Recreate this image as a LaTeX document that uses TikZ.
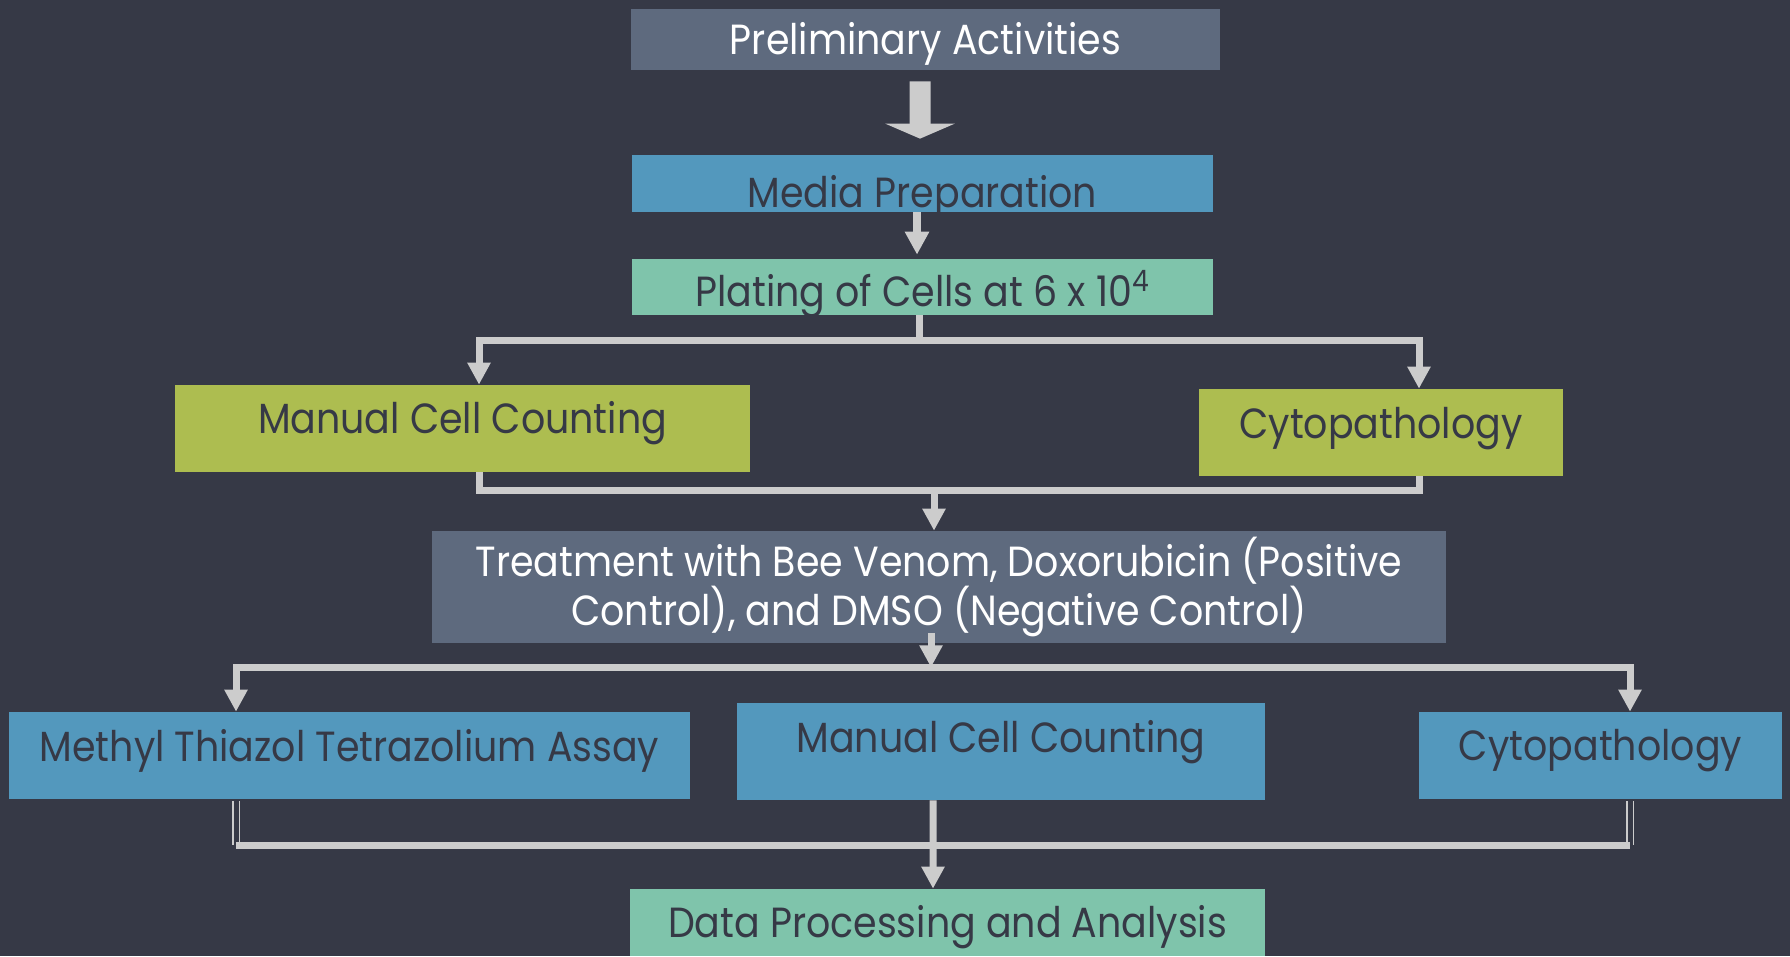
\documentclass[tikz,border=0pt]{standalone}
\usepackage{fontspec}
\setmainfont[FakeStretch=0.9]{Poppins}
\definecolor{bgdark}{RGB}{54,57,70}
\definecolor{slatebox}{RGB}{94,106,126}
\definecolor{bluebox}{RGB}{83,152,189}
\definecolor{tealbox}{RGB}{127,196,171}
\definecolor{olivebox}{RGB}{173,189,80}
\definecolor{linkgrey}{RGB}{204,204,204}
\usetikzlibrary{arrows.meta, calc}
\newcommand\flowfont{\fontsize{24}{28}\selectfont}

\begin{document}
\begin{tikzpicture}[x=0.02cm, y=-0.02cm, font=\flowfont,
    box/.style={rectangle, inner sep=0pt, text=bgdark},
    lift/.style={text height=0.8cm, text depth=#1},
    flow/.style={linkgrey, line width=0.14cm},
    flowarrow/.style={flow, -{Triangle[length=0.44cm, width=0.44cm]}},
    dbl/.style={linkgrey, line width=0.03cm, double=bgdark, double distance=0.1cm}]
  \fill[bgdark] (0,0) rectangle (1790,956);
  \useasboundingbox (0,0) rectangle (1790,956);

  % top column
  \node[box, fill=slatebox, text=white, minimum width=11.78cm, minimum height=1.22cm,
        lift=0.18cm] (prelim) at (925.5,39.5) {Preliminary Activities};
  \node[box, fill=bluebox, minimum width=11.62cm, minimum height=1.14cm,
        text height=0.98cm, text depth=0.02cm] (media) at (922.5,183.5) {Media Preparation};
  \node[box, fill=tealbox, minimum width=11.62cm, minimum height=1.12cm,
        lift=0cm] (plating) at (922.5,287) {Plating of Cells at 6 x 10\textsuperscript{4}};

  % first counts
  \node[box, fill=olivebox, minimum width=11.5cm, minimum height=1.74cm,
        lift=0.62cm] (mangreen) at (462.5,428.5) {Manual Cell Counting};
  \node[box, fill=olivebox, minimum width=7.28cm, minimum height=1.74cm,
        lift=0.58cm] (cytogreen) at (1381,432.5) {Cytopathology};

  \node[box, fill=slatebox, text=white, align=center, minimum width=20.28cm,
        minimum height=2.24cm] (treat) at (939,587)
        {Treatment with Bee Venom, Doxorubicin (Positive\\Control), and DMSO (Negative Control)};

  % assays
  \node[box, fill=bluebox, minimum width=13.62cm, minimum height=1.74cm,
        lift=0.58cm] (mtt) at (349.5,755.5) {Methyl Thiazol Tetrazolium Assay};
  \node[box, fill=bluebox, minimum width=10.56cm, minimum height=1.94cm,
        lift=0.78cm] (manblue) at (1001,751.5) {Manual Cell Counting};
  \node[box, fill=bluebox, minimum width=7.26cm, minimum height=1.74cm,
        lift=0.62cm] (cytoblue) at (1600.5,755.5) {Cytopathology};

  \node[box, fill=tealbox, minimum width=12.7cm, minimum height=1.34cm,
        lift=0.22cm] (data) at (947.5,922.5) {Data Processing and Analysis};

  % arrows
  \draw[linkgrey, line width=0.42cm, -{Triangle[length=0.3cm, width=1.38cm]}]
        ([xshift=-0.11cm, yshift=-0.22cm]prelim.south) -- ([xshift=-0.05cm, yshift=0.32cm]media.north);
  \draw[linkgrey, line width=0.16cm, -{Triangle[length=0.46cm, width=0.46cm]}]
        ([xshift=-0.11cm]media.south) -- ([xshift=-0.11cm, yshift=0.08cm]plating.north);

  \draw[flow] ([xshift=-0.07cm]plating.south) -- ++(0,25) coordinate (split1);
  \draw[flowarrow] (split1) -| ([xshift=0.33cm]mangreen.north);
  \draw[flowarrow] (split1) -| ([xshift=0.76cm]cytogreen.north);

  \draw[flow] ([xshift=0.33cm]mangreen.south) -- ++(0,18) coordinate (join1)
        -| ([xshift=0.76cm]cytogreen.south);
  \coordinate (t1) at ([xshift=-0.1cm]treat.north);
  \draw[flowarrow] (join1 -| t1) -- (t1);

  \draw[flowarrow] ([xshift=-0.16cm, yshift=0.2cm]treat.south)
        -- ([xshift=-0.16cm, yshift=-0.48cm]treat.south) coordinate (split2);
  \draw[flowarrow] (split2) -| ([xshift=-2.27cm]mtt.north);
  \draw[flowarrow] (split2) -| ([xshift=0.59cm]cytoblue.north);

  \draw[dbl] ([xshift=-2.27cm, yshift=-0.04cm]mtt.south) -- ++(0,44) coordinate (bl);
  \draw[dbl] ([xshift=0.59cm, yshift=-0.04cm]cytoblue.south) -- ++(0,44) coordinate (br);
  \draw[flow] (bl) -- (br);
  \draw[flowarrow] ([xshift=-1.36cm]manblue.south) -- ([xshift=-0.29cm]data.north);
\end{tikzpicture}
\end{document}
